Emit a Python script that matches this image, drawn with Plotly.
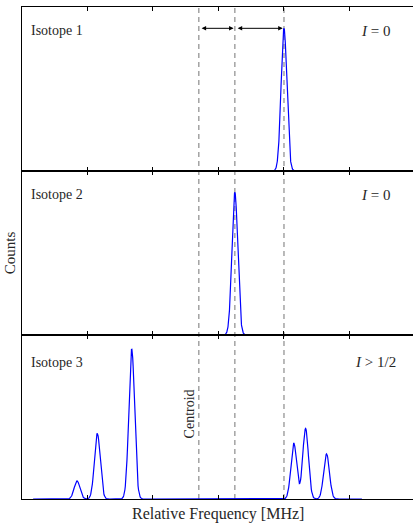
import numpy as np
import plotly.graph_objects as go
from plotly.subplots import make_subplots

# Peak parameters (x in tick units, heights as fraction of panel)
iso1_centers = [4.0]
iso1_heights = [0.87]
iso2_centers = [3.25]
iso2_heights = [0.87]
iso3_centers = [0.84, 1.15, 1.675, 4.15, 4.33, 4.65]
iso3_heights = [0.11, 0.40, 0.915, 0.34, 0.43, 0.275]
peak_sigma = 0.044

iso_spans = [(3.48, 4.47), (2.75, 3.75), (0.17, 5.19)]
panel_labels = ["Isotope 1", "Isotope 2", "Isotope 3"]
spin_labels = ["<i>I</i> = 0", "<i>I</i> = 0", "<i>I</i> &gt; 1/2"]
dashed_x = [2.70, 3.25, 4.0]
tick_vals = [0, 1, 2, 3, 4, 5, 6]

FONT = "Liberation Serif"
TXT = "#262626"

def profile(centers, heights, span):
    x = np.linspace(span[0], span[1], 800)
    y = np.zeros_like(x)
    for c, h in zip(centers, heights):
        y += h * np.exp(-0.5 * ((x - c) / peak_sigma) ** 2)
    return x, y

fig = make_subplots(rows=3, cols=1, shared_xaxes=True, vertical_spacing=0)

data = [(iso1_centers, iso1_heights), (iso2_centers, iso2_heights), (iso3_centers, iso3_heights)]
for i, (c, h) in enumerate(data):
    x, y = profile(c, h, iso_spans[i])
    fig.add_trace(go.Scatter(x=x, y=y, mode="lines", line=dict(color="#0000ff", width=1.2),
                             showlegend=False, hoverinfo="skip"), row=i + 1, col=1)

for r in range(1, 4):
    fig.update_xaxes(range=[0, 5.97], tickvals=tick_vals, ticks="inside", ticklen=4,
                     tickcolor="black", showticklabels=False, showline=True, linecolor="black",
                     linewidth=1, mirror="ticks", showgrid=False, zeroline=False, row=r, col=1)
    fig.update_yaxes(range=[0, 1], showticklabels=False, ticks="", showline=True,
                     linecolor="black", linewidth=1, mirror=False, showgrid=False,
                     zeroline=False, row=r, col=1)

# dashed vertical lines through all panels
for xv in dashed_x:
    fig.add_shape(type="line", xref="x3", yref="paper", x0=xv, x1=xv, y0=0, y1=1,
                  line=dict(color="#8c8c8c", width=1.2, dash="5px,4px"), layer="below")

annotations = []
yrefs = ["y", "y2", "y3"]
xrefs = ["x", "x2", "x3"]
label_y = [0.855, 0.855, 0.835]
for i in range(3):
    annotations.append(dict(x=0.1, y=label_y[i], xref=xrefs[i], yref=yrefs[i], text=panel_labels[i],
                            showarrow=False, xanchor="left", yanchor="middle",
                            font=dict(family=FONT, size=14, color=TXT)))
    annotations.append(dict(x=5.39, y=label_y[i], xref=xrefs[i], yref=yrefs[i],
                            text=spin_labels[i], showarrow=False, xanchor="center", yanchor="middle",
                            font=dict(family=FONT, size=15, color=TXT)))

# arrows in top panel
arrow_y = 0.87
for a, b in [(dashed_x[0], dashed_x[1]), (dashed_x[1], dashed_x[2])]:
    annotations.append(dict(x=b - 0.02, y=arrow_y, ax=a + 0.02, ay=arrow_y, xref="x", yref="y",
                            axref="x", ayref="y", text="", showarrow=True, arrowhead=2,
                            arrowside="end+start", arrowsize=0.9, arrowwidth=1, arrowcolor="black"))

annotations.append(dict(x=2.56, y=0.52, xref="x3", yref="y3", text="Centroid", textangle=-90,
                        showarrow=False, xanchor="center", yanchor="middle",
                        font=dict(family=FONT, size=14, color=TXT)))
annotations.append(dict(x=0.5, y=-0.03, xref="paper", yref="paper",
                        text="Relative Frequency [MHz]", showarrow=False,
                        xanchor="center", yanchor="middle",
                        font=dict(family=FONT, size=16, color=TXT)))
annotations.append(dict(x=-0.03, y=0.5, xref="paper", yref="paper", text="Counts",
                        textangle=-90, showarrow=False, xanchor="center", yanchor="middle",
                        font=dict(family=FONT, size=15, color=TXT)))

fig.update_layout(width=413, height=523, margin=dict(l=22, r=0, t=7, b=24),
                  plot_bgcolor="white", paper_bgcolor="white", annotations=annotations)

fig.write_html("out.html", config={"displayModeBar": False},
               post_script="document.body.style.margin='0';document.body.style.overflow='hidden';")
